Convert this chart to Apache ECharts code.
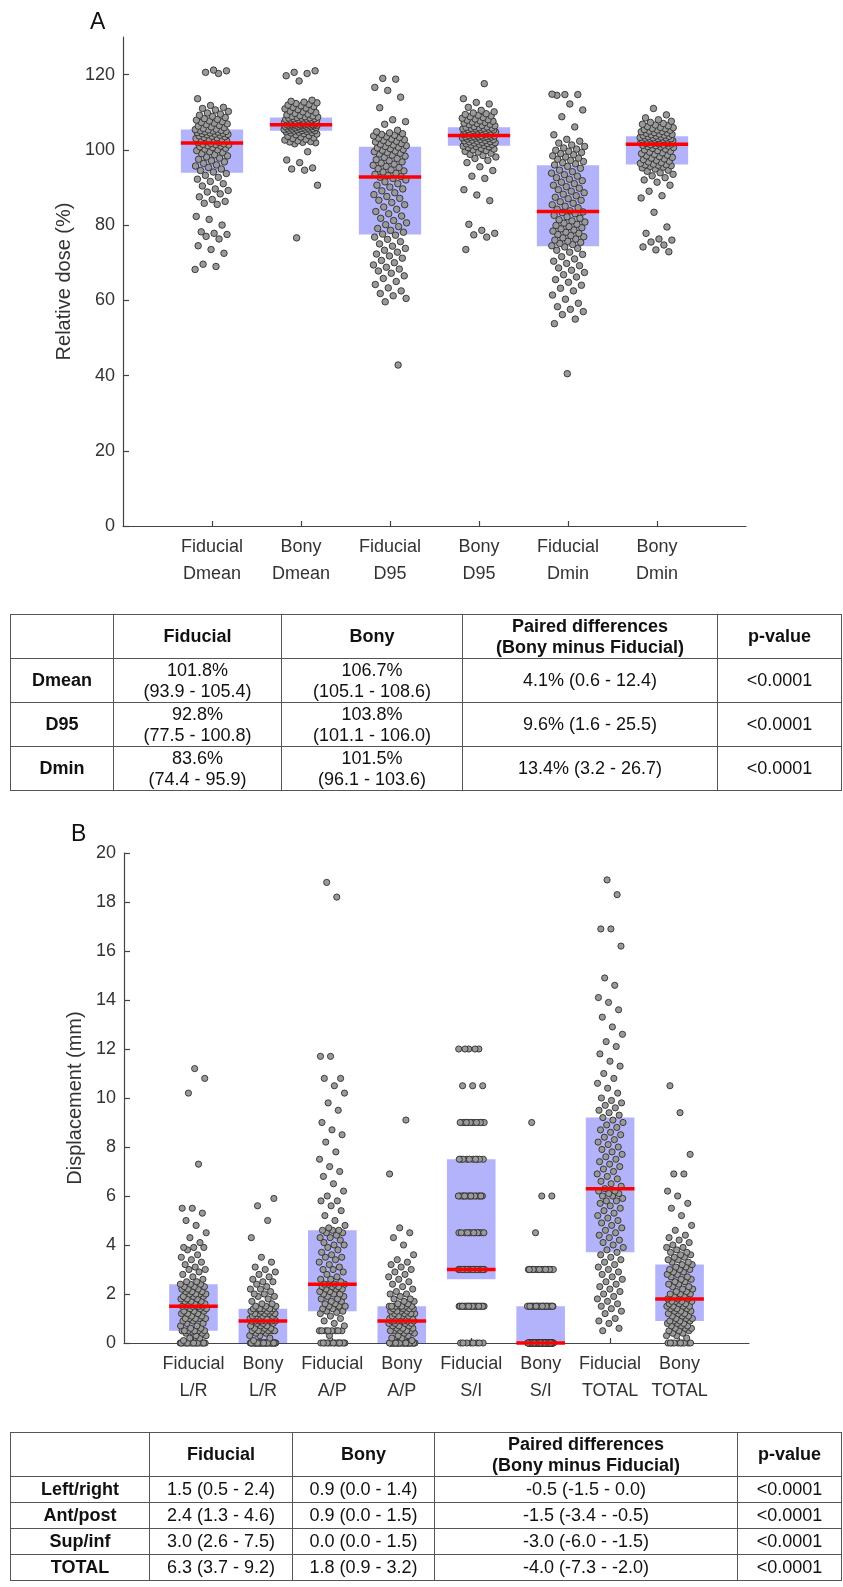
<!DOCTYPE html>
<html><head><meta charset="utf-8">
<script src="https://cdn.jsdelivr.net/npm/echarts@6/dist/echarts.min.js"></script>
<style>
html,body{margin:0;padding:0;background:#fff;}
#chart{position:absolute;left:0;top:0;width:843px;height:1587px;}
table.t{position:absolute;border-collapse:collapse;table-layout:fixed;font-family:"Liberation Sans",Arial,sans-serif;font-size:18px;color:#111;}
table.t td{border:1.5px solid #555;text-align:center;vertical-align:middle;padding:0;line-height:21px;white-space:pre-line;}
table.t td.b{font-weight:bold;}
</style></head><body>
<div id="chart"></div>
<table class="t" id="tA"></table>
<table class="t" id="tB"></table>
<script>
// ---------- Panel A: relative dose (%) ----------
const catsA = ['Fiducial\nDmean','Bony\nDmean','Fiducial\nD95','Bony\nD95','Fiducial\nDmin','Bony\nDmin'];
const yTicksA = [0,20,40,60,80,100,120];
const medA = [101.8,106.7,92.8,103.8,83.6,101.5];
const q1A  = [93.9,105.1,77.5,101.1,74.4,96.1];
const q3A  = [105.4,108.6,100.8,106.0,95.9,103.6];
const pdMedA = [4.1,9.6,13.4];
const pdLoA  = [0.6,1.6,3.2];
const pdHiA  = [12.4,25.5,26.7];
const rowNamesA = ['Dmean','D95','Dmin'];

const fidDmean = [68.2,69.0,69.6,72.5,73.5,74.5,76.3,77.0,77.5,77.8,78.2,80.0,81.5,82.3,85.5,85.8,86.3,86.8,87.5,88.3,88.8,89.2,89.6,90.4,91.0,91.6,92.2,92.7,93.2,93.7,
94.1,94.5,94.9,95.3,95.7,96.0,96.4,96.8,97.1,97.5,97.8,98.1,98.4,98.7,99.0,99.3,99.5,99.8,100.0,100.2,100.4,100.6,100.8,101.0,101.1,101.3,101.4,101.5,101.6,101.7,
101.9,102.0,102.2,102.3,102.5,102.6,102.8,102.9,103.0,103.2,103.3,103.5,103.6,103.7,103.9,104.0,104.1,104.2,104.3,104.4,104.5,104.6,104.7,104.8,104.9,105.0,105.1,105.2,105.3,105.4,
105.5,105.7,105.9,106.1,106.3,106.5,106.7,106.9,107.1,107.3,107.5,107.7,107.9,108.1,108.3,108.6,108.9,109.2,109.5,109.8,110.2,110.6,111.0,111.3,111.8,113.6,120.3,120.6,121.0,121.2];
const bonyDmean = [76.6,90.6,94.6,94.9,95.2,96.6,97.3,99.5,101.6,101.9,102.0,102.1,102.2,102.4,102.6,102.8,103.0,103.2,103.4,103.6,103.8,104.0,104.2,104.3,104.5,104.6,104.7,104.8,104.9,105.0,
105.1,105.15,105.2,105.3,105.35,105.4,105.5,105.55,105.6,105.7,105.75,105.8,105.9,105.95,106.0,106.1,106.15,106.2,106.25,106.3,106.35,106.4,106.45,106.5,106.55,106.6,106.6,106.65,106.7,106.7,
106.75,106.8,106.85,106.9,106.95,107.0,107.1,107.15,107.2,107.3,107.35,107.4,107.5,107.55,107.6,107.7,107.75,107.8,107.9,107.95,108.0,108.05,108.1,108.2,108.25,108.3,108.4,108.45,108.5,108.6,
108.7,108.8,108.9,109.0,109.1,109.3,109.5,109.7,109.9,110.1,110.3,110.5,110.7,110.9,111.1,111.3,111.5,111.7,111.9,112.1,112.3,112.5,112.7,112.9,113.2,118.3,119.7,120.3,120.6,121.0];
const fidD95 = [42.8,59.6,60.5,61.2,61.8,62.5,63.3,64.2,65.0,65.8,66.5,67.2,67.8,68.3,68.8,69.4,70.0,70.6,71.2,71.8,72.3,72.8,73.3,73.8,74.4,75.0,75.6,76.2,76.8,77.3,
77.6,78.1,78.6,79.1,79.6,80.1,80.6,81.2,81.8,82.4,83.0,83.6,84.2,84.8,85.4,86.0,86.6,87.1,87.6,88.1,88.6,89.1,89.6,90.1,90.6,91.0,91.5,92.0,92.4,92.7,
92.9,93.2,93.5,93.8,94.1,94.4,94.7,95.0,95.3,95.6,95.9,96.2,96.5,96.8,97.1,97.4,97.7,98.0,98.3,98.6,98.9,99.1,99.3,99.5,99.7,99.9,100.1,100.3,100.5,100.7,
100.9,101.1,101.3,101.5,101.7,101.9,102.1,102.3,102.5,102.7,102.9,103.1,103.3,103.5,103.7,103.9,104.1,104.3,104.5,104.8,105.2,106.8,107.5,108.0,111.2,114.0,115.8,116.6,118.8,119.0];
const bonyD95 = [73.5,76.8,77.4,77.8,78.6,80.2,86.5,88.0,89.4,92.4,93.0,94.5,95.5,96.6,97.2,97.7,98.1,98.5,98.8,99.1,99.4,99.6,99.8,100.0,100.2,100.4,100.6,100.8,100.9,101.0,
101.2,101.3,101.4,101.5,101.6,101.7,101.8,101.9,102.0,102.1,102.2,102.3,102.4,102.5,102.6,102.7,102.8,102.9,103.0,103.1,103.2,103.3,103.35,103.4,103.45,103.5,103.55,103.6,103.7,103.75,
103.85,103.9,104.0,104.1,104.15,104.2,104.3,104.4,104.45,104.5,104.6,104.7,104.75,104.8,104.9,105.0,105.05,105.1,105.2,105.3,105.35,105.4,105.5,105.55,105.6,105.7,105.75,105.8,105.9,106.0,
106.1,106.2,106.4,106.5,106.7,106.8,107.0,107.1,107.3,107.4,107.6,107.7,107.9,108.0,108.2,108.4,108.6,108.8,109.0,109.2,109.4,109.6,109.8,110.1,110.5,111.3,112.2,112.6,113.6,117.6];
const fidDmin = [40.5,53.8,55.0,56.2,57.0,57.6,58.3,59.2,60.3,61.4,62.5,63.2,64.0,64.8,65.5,66.2,66.8,67.4,68.0,68.6,69.2,69.8,70.4,71.0,71.6,72.2,72.8,73.3,73.8,74.2,
74.5,74.8,75.1,75.4,75.7,76.0,76.3,76.6,76.9,77.2,77.5,77.8,78.1,78.4,78.7,79.0,79.3,79.6,79.9,80.2,80.5,80.8,81.1,81.4,81.8,82.2,82.6,83.0,83.3,83.5,
83.8,84.2,84.6,85.0,85.4,85.8,86.2,86.6,87.0,87.4,87.8,88.2,88.6,89.0,89.4,89.8,90.2,90.6,91.0,91.4,91.8,92.2,92.6,93.0,93.4,93.8,94.2,94.6,95.1,95.6,
96.0,96.3,96.6,96.9,97.2,97.5,97.8,98.1,98.4,98.7,99.0,99.3,99.6,99.9,100.2,100.5,100.9,101.3,101.8,102.3,102.8,104.0,106.1,108.8,110.6,112.2,114.5,114.7,114.7,114.8];
const bonyDmin = [72.9,73.4,74.2,74.7,75.5,76.0,76.3,77.8,79.5,83.4,87.2,87.8,89.0,90.6,91.4,92.0,92.6,93.1,93.5,93.9,94.3,94.6,94.9,95.2,95.4,95.6,95.8,95.9,96.0,96.05,
96.2,96.4,96.6,96.8,97.0,97.2,97.4,97.6,97.8,98.0,98.2,98.4,98.6,98.8,99.0,99.2,99.4,99.6,99.8,100.0,100.2,100.4,100.6,100.8,100.9,101.0,101.1,101.2,101.3,101.4,
101.55,101.6,101.7,101.75,101.8,101.9,101.95,102.0,102.1,102.15,102.2,102.3,102.35,102.4,102.5,102.55,102.6,102.7,102.75,102.8,102.9,102.95,103.0,103.1,103.15,103.2,103.3,103.4,103.5,103.6,
103.7,103.8,103.9,104.0,104.1,104.2,104.4,104.5,104.6,104.8,104.9,105.0,105.2,105.3,105.4,105.6,105.7,105.9,106.0,106.2,106.4,106.6,106.8,107.0,107.3,107.6,108.0,108.5,109.3,111.0];

// ---------- Panel B: displacement (mm) ----------
const catsB = ['Fiducial\nL/R','Bony\nL/R','Fiducial\nA/P','Bony\nA/P','Fiducial\nS/I','Bony\nS/I','Fiducial\nTOTAL','Bony\nTOTAL'];
const yTicksB = [0,2,4,6,8,10,12,14,16,18,20];
const medB = [1.5,0.9,2.4,0.9,3.0,0.0,6.3,1.8];
const q1B  = [0.5,0.0,1.3,0.0,2.6,0.0,3.7,0.9];
const q3B  = [2.4,1.4,4.6,1.5,7.5,1.5,9.2,3.2];
const pdMedB = [-0.5,-1.5,-3.0,-4.0];
const pdLoB  = [-1.5,-3.4,-6.0,-7.3];
const pdHiB  = [0.0,-0.5,-1.5,-2.0];
const rowNamesB = ['Left/right','Ant/post','Sup/inf','TOTAL'];

const fidLR = [0,0,0,0,0,0,0,0,0,0,0,0,0,0,0,0,0,0,0.1,0.2,0.2,0.3,0.3,0.4,0.4,0.45,0.5,0.5,0.5,0.5,
0.5,0.5,0.6,0.6,0.7,0.7,0.8,0.8,0.9,0.9,1.0,1.0,1.0,1.0,1.0,1.1,1.1,1.2,1.2,1.2,1.3,1.3,1.3,1.4,1.4,1.4,1.5,1.5,1.5,1.5,
1.5,1.5,1.6,1.6,1.6,1.7,1.7,1.7,1.8,1.8,1.8,1.9,1.9,1.9,2.0,2.0,2.0,2.0,2.1,2.1,2.1,2.2,2.2,2.2,2.3,2.3,2.3,2.4,2.4,2.4,
2.5,2.5,2.6,2.7,2.8,2.9,3.0,3.0,3.1,3.2,3.3,3.4,3.5,3.6,3.8,3.9,3.9,3.9,4.1,4.3,4.5,4.8,5.0,5.3,5.5,5.5,7.3,10.2,10.8,11.2];
const bonyLR = [0,0,0,0,0,0,0,0,0,0,0,0,0,0,0,0,0,0,0,0,0,0,0,0,0,0,0,0,0,0,0,0,
0.1,0.2,0.3,0.3,0.4,0.4,0.5,0.5,0.5,0.5,0.5,0.5,0.6,0.6,0.6,0.7,0.7,0.7,0.8,0.8,0.8,0.9,0.9,0.9,0.9,0.9,0.9,0.9,
0.9,0.9,1.0,1.0,1.0,1.0,1.0,1.0,1.0,1.0,1.0,1.1,1.1,1.1,1.1,1.2,1.2,1.2,1.2,1.2,1.3,1.3,1.3,1.3,1.4,1.4,1.4,1.4,1.4,1.4,
1.5,1.5,1.5,1.6,1.6,1.7,1.8,1.9,1.9,2.0,2.0,2.1,2.2,2.2,2.3,2.4,2.5,2.5,2.6,2.7,2.8,2.9,3.0,3.1,3.3,3.5,4.3,5.0,5.6,5.9];
const fidAP = [0,0,0,0,0,0,0,0,0,0,0,0,0,0,0.3,0.5,0.5,0.5,0.5,0.5,0.5,0.5,0.5,0.7,0.8,0.9,1.0,1.1,1.2,1.25,
1.3,1.3,1.4,1.4,1.5,1.5,1.5,1.6,1.6,1.7,1.7,1.8,1.8,1.9,1.9,2.0,2.0,2.0,2.1,2.1,2.2,2.2,2.2,2.3,2.3,2.3,2.4,2.4,2.4,2.4,
2.5,2.6,2.6,2.7,2.8,2.9,3.0,3.0,3.1,3.2,3.3,3.4,3.5,3.5,3.6,3.7,3.8,3.9,4.0,4.0,4.1,4.2,4.3,4.3,4.4,4.5,4.5,4.6,4.6,4.6,
4.7,4.8,5.0,5.2,5.4,5.6,5.8,5.8,6.0,6.2,6.5,6.8,7.0,7.2,7.5,7.8,8.2,8.5,8.7,9.0,9.5,9.8,10.2,10.5,10.8,10.8,11.7,11.7,18.2,18.8];
const bonyAP = [0,0,0,0,0,0,0,0,0,0,0,0,0,0,0,0,0,0,0,0,0,0,0,0,0,0,0,0,0,0,0,0,
0.1,0.2,0.2,0.3,0.3,0.4,0.4,0.5,0.5,0.5,0.5,0.5,0.6,0.6,0.6,0.7,0.7,0.7,0.8,0.8,0.8,0.8,0.9,0.9,0.9,0.9,0.9,0.9,
0.9,1.0,1.0,1.0,1.0,1.0,1.0,1.1,1.1,1.1,1.1,1.2,1.2,1.2,1.2,1.3,1.3,1.3,1.3,1.4,1.4,1.4,1.4,1.5,1.5,1.5,1.5,1.5,1.5,1.5,
1.6,1.6,1.7,1.7,1.8,1.8,1.9,2.0,2.0,2.1,2.2,2.3,2.4,2.5,2.6,2.7,2.8,2.9,3.0,3.1,3.2,3.3,3.4,3.6,4.0,4.3,4.5,4.7,6.9,9.1];
const fidSI = [0,0,0,0,0,0,0,0,
1.5,1.5,1.5,1.5,1.5,1.5,1.5,1.5,1.5,1.5,1.5,1.5,1.5,1.5,1.5,1.5,1.5,1.5,1.5,1.5,1.5,1.5,
3,3,3,3,3,3,3,3,3,3,3,3,3,3,3,3,3,3,3,3,3,3,3,3,3,3,3,3,3,3,3,3,
4.5,4.5,4.5,4.5,4.5,4.5,4.5,4.5,4.5,4.5,4.5,4.5,
6,6,6,6,6,6,6,6,6,6,6,6,6,6,6,6,
7.5,7.5,7.5,7.5,7.5,7.5,7.5,7.5,7.5,7.5,
9,9,9,9,9,9,9,9,9,9,9,9,9,9,
10.5,10.5,10.5,
12,12,12,12,12];
const bonySI = [0,0,0,0,0,0,0,0,0,0,0,0,0,0,0,0,0,0,0,0,0,0,0,0,0,0,0,0,0,0,0,0,0,0,0,
0,0,0,0,0,0,0,0,0,0,0,0,0,0,0,0,0,0,0,0,0,0,0,0,0,0,0,0,0,0,0,0,0,0,0,
1.5,1.5,1.5,1.5,1.5,1.5,1.5,1.5,1.5,1.5,1.5,1.5,1.5,1.5,1.5,1.5,1.5,1.5,1.5,1.5,1.5,1.5,1.5,1.5,1.5,1.5,
3,3,3,3,3,3,3,3,3,3,3,3,3,3,3,3,3,3,
4.5,6,6,9];
const fidTOT = [0.5,0.6,0.8,0.9,1.0,1.2,1.3,1.4,1.5,1.6,1.7,1.8,1.9,2.0,2.1,2.2,2.3,2.4,2.5,2.6,2.7,2.8,2.9,3.0,3.1,3.2,3.3,3.4,3.5,3.6,
3.7,3.8,3.9,4.0,4.1,4.2,4.3,4.4,4.5,4.6,4.7,4.8,4.9,5.0,5.1,5.2,5.3,5.4,5.5,5.6,5.7,5.8,5.8,5.9,6.0,6.0,6.1,6.1,6.2,6.2,
6.3,6.4,6.5,6.6,6.7,6.8,6.9,7.0,7.1,7.2,7.3,7.4,7.5,7.6,7.7,7.8,7.9,8.0,8.1,8.2,8.3,8.4,8.5,8.6,8.7,8.8,8.9,9.0,9.1,9.2,
9.3,9.4,9.5,9.6,9.7,9.8,9.9,10.0,10.2,10.4,10.6,10.8,11.0,11.3,11.5,11.8,12.1,12.3,12.6,12.9,13.3,13.6,13.9,14.1,14.6,14.9,16.2,16.9,16.9,18.3,18.9];
const bonyTOT = [0,0,0,0,0,0,0,0,0,0,
0.2,0.3,0.3,0.4,0.4,0.5,0.5,0.5,0.6,0.6,0.6,0.7,0.7,0.7,0.8,0.8,0.8,0.9,0.9,0.9,
0.9,1.0,1.0,1.0,1.1,1.1,1.1,1.2,1.2,1.2,1.3,1.3,1.3,1.4,1.4,1.4,1.5,1.5,1.5,1.5,1.6,1.6,1.6,1.7,1.7,1.7,1.7,1.8,1.8,1.8,
1.9,1.9,2.0,2.0,2.0,2.1,2.1,2.2,2.2,2.3,2.3,2.4,2.4,2.5,2.5,2.6,2.6,2.7,2.7,2.8,2.8,2.9,2.9,3.0,3.0,3.0,3.1,3.1,3.2,3.2,
3.3,3.3,3.4,3.4,3.5,3.5,3.6,3.6,3.7,3.7,3.8,3.9,3.9,4.0,4.1,4.2,4.3,4.4,4.6,4.8,5.2,5.5,5.7,6.0,6.2,6.9,6.9,7.7,9.4,10.5];

const groupsA = [fidDmean,bonyDmean,fidD95,bonyD95,fidDmin,bonyDmin];
const groupsB = [fidLR,bonyLR,fidAP,bonyAP,fidSI,bonySI,fidTOT,bonyTOT];

// ---------- build ----------
const FONT = '"Liberation Sans", Arial, sans-serif';
const AX = '#444';
const JIT = 0.19, HALF = 0.35;
function jitterPoints(groups){
  const out = [];
  groups.forEach((g, c) => {
    g.forEach((v, i) => {
      const f = ((i * 0.6180339887 + c * 0.37) % 1) - 0.5;
      out.push([c + 1 + f * 2 * JIT, v]);
    });
  });
  return out;
}
function boxData(q1, q3){ return q1.map((lo, i) => [i + 1, lo, q3[i]]); }
function medData(m){ return m.map((v, i) => [i + 1, v]); }
function ones(n){ const a=[]; for(let i=1;i<=n;i++) a.push(i); return a; }

function xAxisCfg(idx, cats){
  return {
    type:'value', gridIndex:idx, min:0, max:cats.length + 1,
    axisLine:{show:true, onZero:false, lineStyle:{color:AX, width:1.2}},
    axisTick:{show:true, inside:true, length:5, customValues:ones(cats.length), lineStyle:{color:AX, width:1.2}},
    axisLabel:{customValues:ones(cats.length), fontFamily:FONT, fontSize:18, color:'#333', margin:8, lineHeight:27,
      formatter:(v) => cats[Math.round(v) - 1] || ''},
    splitLine:{show:false}
  };
}
function yAxisCfg(idx, max, ticks, name, gap){
  return {
    type:'value', gridIndex:idx, min:0, max:max,
    axisLine:{show:true, onZero:false, lineStyle:{color:AX, width:1.2}},
    axisTick:{show:true, inside:true, length:6, customValues:ticks, lineStyle:{color:AX, width:1.2}},
    axisLabel:{customValues:ticks, fontFamily:FONT, fontSize:18, color:'#333', margin:8},
    splitLine:{show:false},
    name:name, nameLocation:'middle', nameGap:gap, nameRotate:90,
    nameTextStyle:{fontFamily:FONT, fontSize:20, color:'#333'}
  };
}
function boxRender(params, api){
  const x = api.value(0), lo = api.value(1), hi = api.value(2);
  const p1 = api.coord([x - HALF, hi]), p2 = api.coord([x + HALF, lo]);
  return {type:'rect', shape:{x:p1[0], y:p1[1], width:p2[0]-p1[0], height:p2[1]-p1[1]},
    style:{fill:'#b3b3fb'}};
}
function medRender(params, api){
  const x = api.value(0), m = api.value(1);
  const p1 = api.coord([x - HALF, m]), p2 = api.coord([x + HALF, m]);
  return {type:'line', shape:{x1:p1[0], y1:p1[1], x2:p2[0], y2:p2[1]},
    style:{stroke:'#ff0000', lineWidth:3.5}};
}
function panelSeries(idx, groups, q1, q3, med, size){
  return [
    {type:'custom', xAxisIndex:idx, yAxisIndex:idx, z:1, clip:false, silent:true, renderItem:boxRender,
      data:boxData(q1, q3), encode:{x:0, y:[1,2]}},
    {type:'scatter', xAxisIndex:idx, yAxisIndex:idx, z:2, symbol:'circle', symbolSize:size, silent:true,
      itemStyle:{color:'#9a9a9a', borderColor:'#2e2e2e', borderWidth:0.9, opacity:1},
      data:jitterPoints(groups)},
    {type:'custom', xAxisIndex:idx, yAxisIndex:idx, z:5, clip:false, silent:true, renderItem:medRender,
      data:medData(med), encode:{x:0, y:1}}
  ];
}

const chart = echarts.init(document.getElementById('chart'), null, {renderer:'canvas'});
chart.setOption({
  animation:false,
  backgroundColor:'#fff',
  grid:[
    {left:123, top:37, width:623, height:489, outerBoundsMode:'none', containLabel:false},
    {left:124, top:853, width:625, height:490, outerBoundsMode:'none', containLabel:false}
  ],
  xAxis:[xAxisCfg(0, catsA), xAxisCfg(1, catsB)],
  yAxis:[yAxisCfg(0, 130, yTicksA, 'Relative dose (%)', 47), yAxisCfg(1, 20, yTicksB, 'Displacement (mm)', 35)],
  graphic:[
    {type:'text', left:90, top:11, style:{text:'A', fontFamily:FONT, fontSize:23, fill:'#111'}},
    {type:'text', left:71, top:823, style:{text:'B', fontFamily:FONT, fontSize:23, fill:'#111'}}
  ],
  series:[].concat(
    panelSeries(0, groupsA, q1A, q3A, medA, 6.5),
    panelSeries(1, groupsB, q1B, q3B, medB, 6.2)
  )
});

// ---------- tables ----------
function fmtRange(m, lo, hi, pct){
  const s = pct ? '%' : '';
  return m.toFixed(1) + s + (pct ? '\n' : ' ') + '(' + lo.toFixed(1) + ' - ' + hi.toFixed(1) + ')';
}
function buildTable(el, left, top, colW, headH, rowH, rows){
  el.style.left = left + 'px'; el.style.top = top + 'px';
  const cg = document.createElement('colgroup');
  colW.forEach(w => { const c = document.createElement('col'); c.style.width = w + 'px'; cg.appendChild(c); });
  el.appendChild(cg);
  el.style.width = colW.reduce((a,b)=>a+b,0) + 'px';
  rows.forEach((r, ri) => {
    const tr = document.createElement('tr');
    tr.style.height = (ri === 0 ? headH : rowH) + 'px';
    r.forEach((txt, ci) => {
      const td = document.createElement('td');
      td.textContent = txt;
      if (ri === 0 || ci === 0) td.className = 'b';
      tr.appendChild(td);
    });
    el.appendChild(tr);
  });
}
const head = ['', 'Fiducial', 'Bony', 'Paired differences\n(Bony minus Fiducial)', 'p-value'];
const rowsA = [head];
rowNamesA.forEach((n, r) => {
  const f = r * 2;
  rowsA.push([n, fmtRange(medA[f], q1A[f], q3A[f], true), fmtRange(medA[f+1], q1A[f+1], q3A[f+1], true),
    pdMedA[r].toFixed(1) + '% (' + pdLoA[r].toFixed(1) + ' - ' + pdHiA[r].toFixed(1) + ')', '<0.0001']);
});
const rowsB = [head];
rowNamesB.forEach((n, r) => {
  const f = r * 2;
  rowsB.push([n, fmtRange(medB[f], q1B[f], q3B[f], false), fmtRange(medB[f+1], q1B[f+1], q3B[f+1], false),
    pdMedB[r].toFixed(1) + ' (' + pdLoB[r].toFixed(1) + ' - ' + pdHiB[r].toFixed(1) + ')', '<0.0001']);
});
buildTable(document.getElementById('tA'), 10, 614, [103,168,181,255,124], 44, 44, rowsA);
buildTable(document.getElementById('tB'), 10, 1432, [139,143,142,303,104], 44, 26, rowsB);
</script>
</body></html>
